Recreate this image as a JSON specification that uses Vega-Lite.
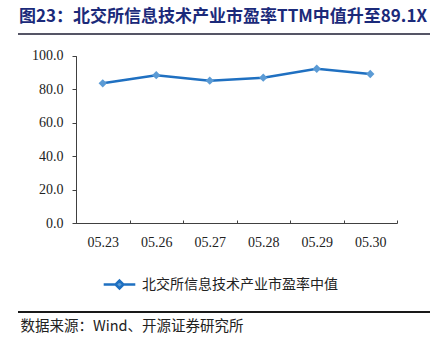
{
  "$schema": "https://vega.github.io/schema/vega-lite/v6.json",
  "width": 412,
  "height": 278,
  "autosize": {"type": "none"},
  "padding": {"left": 18, "top": 34, "right": 9, "bottom": 33},
  "background": "white",
  "title": {
    "text": "图23：北交所信息技术产业市盈率TTM中值升至89.1X",
    "anchor": "start",
    "font": "Noto Sans CJK SC",
    "fontSize": 17,
    "fontWeight": "bold",
    "color": "#1B2A7A",
    "offset": 7,
    "dx": 2,
    "limit": 0
  },
  "config": {"view": {"stroke": null}},
  "data": {
    "values": [
      {"date": "05.23", "value": 83.5, "series": "北交所信息技术产业市盈率中值"},
      {"date": "05.26", "value": 88.4, "series": "北交所信息技术产业市盈率中值"},
      {"date": "05.27", "value": 85.1, "series": "北交所信息技术产业市盈率中值"},
      {"date": "05.28", "value": 86.9, "series": "北交所信息技术产业市盈率中值"},
      {"date": "05.29", "value": 92.2, "series": "北交所信息技术产业市盈率中值"},
      {"date": "05.30", "value": 89.1, "series": "北交所信息技术产业市盈率中值"}
    ]
  },
  "layer": [
    {
      "mark": {"type": "line", "strokeWidth": 2.5},
      "encoding": {
        "x": {
          "field": "date",
          "type": "ordinal",
          "scale": {"type": "band", "range": [58, 379], "paddingInner": 0, "paddingOuter": 0},
          "axis": {
            "orient": "bottom",
            "offset": -89,
            "title": null,
            "labelAngle": 0,
            "labelFont": "Liberation Serif",
            "labelFontSize": 14,
            "labelColor": "#222222",
            "labelPadding": 15,
            "tickBand": "extent",
            "tickSize": -3,
            "tickColor": "#404040",
            "domainColor": "#404040",
            "grid": false
          }
        },
        "y": {
          "field": "value",
          "type": "quantitative",
          "scale": {"domain": [0, 100], "range": [189.3, 21.7], "nice": false, "zero": true},
          "axis": {
            "orient": "left",
            "offset": -58,
            "title": "数据来源：Wind、开源证券研究所",
            "titleAngle": 0,
            "titleAlign": "left",
            "titleBaseline": "middle",
            "titleX": -56,
            "titleY": 292.7,
            "titleFont": "Noto Sans CJK SC",
            "titleFontSize": 14.5,
            "titleFontWeight": "normal",
            "titleColor": "#222222",
            "values": [0, 20, 40, 60, 80, 100],
            "format": ".1f",
            "labelFont": "Liberation Serif",
            "labelFontSize": 14,
            "labelColor": "#222222",
            "labelPadding": 9,
            "tickSize": 4,
            "tickColor": "#404040",
            "domainColor": "#404040",
            "grid": false
          }
        },
        "color": {
          "field": "series",
          "type": "nominal",
          "scale": {"range": ["#1F70C1"]},
          "legend": {
            "orient": "none",
            "legendX": 84,
            "legendY": 233,
            "title": null,
            "direction": "horizontal",
            "labelFont": "Noto Sans CJK SC",
            "labelFontSize": 14,
            "labelColor": "#222222",
            "labelLimit": 400,
            "symbolType": "M-1,0H-0.25M0.25,0H1M0,-0.25L0.25,0L0,0.25L-0.25,0Z",
            "symbolSize": 1000,
            "symbolStrokeWidth": 2.5,
            "symbolStrokeColor": "#1F70C1",
            "symbolFillColor": "#5B9BD5",
            "labelOffset": 5
          }
        }
      }
    },
    {
      "mark": {"type": "point", "shape": "diamond", "filled": true, "size": 70, "opacity": 1, "color": "#5B9BD5"},
      "encoding": {
        "x": {"field": "date", "type": "ordinal"},
        "y": {"field": "value", "type": "quantitative"}
      }
    },
    {
      "mark": {"type": "rule", "color": "#555566", "strokeWidth": 2},
      "encoding": {"y": {"datum": 112.95}}
    },
    {
      "mark": {"type": "rule", "color": "#1A1A1A", "strokeWidth": 1.5},
      "encoding": {"y": {"datum": -52.9}}
    }
  ]
}
